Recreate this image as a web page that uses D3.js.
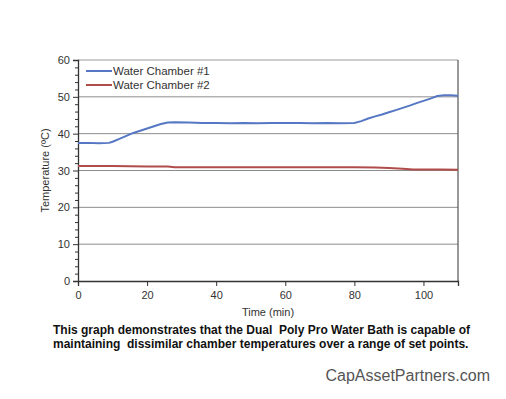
<!DOCTYPE html>
<html><head><meta charset="utf-8">
<script src="https://cdn.jsdelivr.net/npm/d3@7"></script>
<style>body{margin:0;background:#fff;} svg{display:block;}</style>
</head><body>
<script>
const seriesNames = ["Water Chamber #1", "Water Chamber #2"];
const seriesColors = ["#5577c4", "#b04c4a"];
const chamber1Time = [0, 3, 6, 9, 10, 12, 14, 16, 18, 20, 22, 24, 26, 28, 32, 36, 40, 44, 48, 52, 56, 60, 64, 68, 72, 76, 80, 82, 84, 86, 88, 90, 92, 94, 96, 98, 100, 102, 104, 106, 108, 110];
const chamber1Temp = [37.5, 37.5, 37.4, 37.5, 37.8, 38.6, 39.4, 40.2, 40.8, 41.4, 42.0, 42.6, 43.0, 43.1, 43.0, 42.9, 42.9, 42.8, 42.9, 42.8, 42.9, 42.9, 42.9, 42.8, 42.9, 42.8, 42.9, 43.4, 44.1, 44.7, 45.2, 45.8, 46.4, 47.0, 47.6, 48.3, 48.9, 49.5, 50.2, 50.4, 50.4, 50.3];
const chamber2Time = [0, 10, 20, 26, 28, 40, 60, 80, 86, 90, 94, 97, 100, 105, 110];
const chamber2Temp = [31.2, 31.2, 31.1, 31.1, 30.9, 30.9, 30.9, 30.9, 30.8, 30.7, 30.5, 30.3, 30.3, 30.3, 30.2];
const xTicks = [0, 20, 40, 60, 80, 100];
const yTicks = [0, 10, 20, 30, 40, 50, 60];
const xLabel = "Time (min)";
const yLabel = "Temperature (ºC)";
const captionLines = ["This graph demonstrates that the Dual  Poly Pro Water Bath is capable of", "maintaining  dissimilar chamber temperatures over a range of set points."];
const watermark = "CapAssetPartners.com";

const W = 506, H = 399;
const svg = d3.select("body").append("svg").attr("width", W).attr("height", H);
const font = "'Liberation Sans', Arial, sans-serif";
const x = d3.scaleLinear().domain([0, 110]).range([78, 458]);
const y = d3.scaleLinear().domain([0, 60]).range([281, 60]);

// gridlines
svg.append("g").selectAll("line").data(yTicks.filter(d => d > 0 && d < 60)).join("line")
  .attr("x1", x(0)).attr("x2", x(110)).attr("y1", d => y(d)).attr("y2", d => y(d))
  .attr("stroke", "#8c8c8c").attr("stroke-width", 1);
// frame top and right
svg.append("line").attr("x1", x(0)).attr("x2", x(110)).attr("y1", y(60)).attr("y2", y(60)).attr("stroke", "#9a9a9a");
svg.append("line").attr("x1", x(110)).attr("x2", x(110)).attr("y1", y(60)).attr("y2", y(0)).attr("stroke", "#555").attr("stroke-width", 1.2);

// y axis
svg.append("g").attr("transform", `translate(${x(0)},0)`)
  .call(d3.axisLeft(y).tickValues(yTicks).tickSize(5).tickPadding(3).tickFormat(d3.format("d")));
svg.append("g").attr("transform", `translate(${x(0)},0)`)
  .call(d3.axisLeft(y).tickValues(d3.range(0, 61, 2).filter(d => d % 10 !== 0)).tickSize(3).tickFormat(""))
  .call(g => g.select(".domain").remove());
// x axis
svg.append("g").attr("transform", `translate(0,${y(0)})`)
  .call(d3.axisBottom(x).tickValues(xTicks).tickSize(5).tickPadding(5).tickFormat(d3.format("d")));
svg.selectAll(".tick text").attr("font-family", font).attr("font-size", 11).attr("fill", "#333");
svg.selectAll(".domain, .tick line").attr("stroke", "#333");
svg.selectAll(".domain").attr("stroke-width", 1.3);

// lines
const line = d3.line().x(d => x(d[0])).y(d => y(d[1]));
const s1 = chamber1Time.map((t, i) => [t, chamber1Temp[i]]);
const s2 = chamber2Time.map((t, i) => [t, chamber2Temp[i]]);
[s1, s2].forEach((s, i) => {
  svg.append("path").datum(s).attr("d", line).attr("fill", "none")
    .attr("stroke", seriesColors[i]).attr("stroke-width", 2);
});

// legend
seriesNames.forEach((n, i) => {
  const ly = 71 + i * 14;
  svg.append("line").attr("x1", 86).attr("x2", 112).attr("y1", ly).attr("y2", ly)
    .attr("stroke", seriesColors[i]).attr("stroke-width", 2);
  svg.append("text").attr("x", 113).attr("y", ly + 4).text(n)
    .attr("font-family", font).attr("font-size", 11.5).attr("fill", "#333");
});

// axis labels
svg.append("text").attr("x", (x(0) + x(110)) / 2).attr("y", 316).attr("text-anchor", "middle")
  .text(xLabel).attr("font-family", font).attr("font-size", 11).attr("fill", "#333");
svg.append("text").attr("transform", `translate(49,${(y(0) + y(60)) / 2}) rotate(-90)`).attr("text-anchor", "middle")
  .text(yLabel).attr("font-family", font).attr("font-size", 11).attr("fill", "#333");

// caption
captionLines.forEach((l, i) => {
  svg.append("text").attr("x", 53).attr("y", 334 + i * 13.5).text(l)
    .attr("font-family", font).attr("font-size", 12).attr("font-weight", "bold").attr("fill", "#111")
    .style("white-space", "pre");
});
svg.append("text").attr("x", 490).attr("y", 381).attr("text-anchor", "end").text(watermark)
  .attr("font-family", font).attr("font-size", 16).attr("fill", "#555");
</script>
</body></html>
